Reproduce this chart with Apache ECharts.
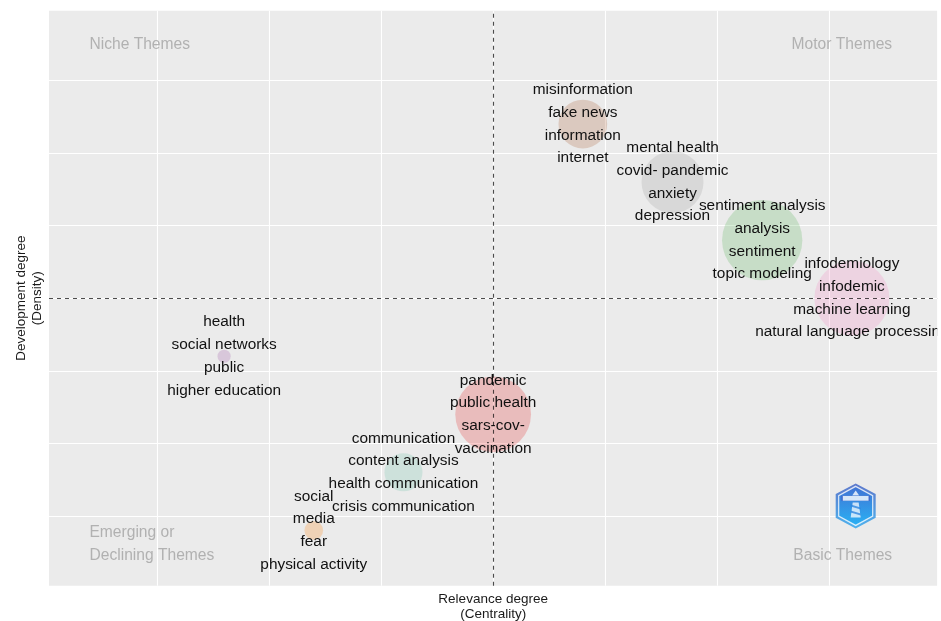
<!DOCTYPE html>
<html>
<head>
<meta charset="utf-8">
<title>Thematic map</title>
<script src="https://cdn.jsdelivr.net/npm/echarts@6/dist/echarts.min.js"></script>
<style>
  html, body { margin: 0; padding: 0; background: #ffffff; }
  #chart { width: 941px; height: 621px; }
</style>
</head>
<body>
<div id="chart"></div>
<script>
// Keyword clusters: each cluster shows its four leading keywords
const clusterLabels = [
  ['health', 'social networks', 'public', 'higher education'],
  ['social', 'media', 'fear', 'physical activity'],
  ['communication', 'content analysis', 'health communication', 'crisis communication'],
  ['pandemic', 'public health', 'sars-cov-', 'vaccination'],
  ['misinformation', 'fake news', 'information', 'internet'],
  ['mental health', 'covid- pandemic', 'anxiety', 'depression'],
  ['sentiment analysis', 'analysis', 'sentiment', 'topic modeling'],
  ['infodemiology', 'infodemic', 'machine learning', 'natural language processing']
];
// Relevance degree (centrality) and development degree (density)
const centrality = [0.6, 1.4, 2.2, 3.0, 3.8, 4.6, 5.4, 6.2];
const density = [2.2, -0.2, 0.6, 1.4, 5.4, 4.6, 3.8, 3.0];
// Cluster frequency (bubble area)
const clusterFreq = [27, 54, 224, 889, 368, 596, 1000, 872];
const clusterColors = ['#984EA3', '#FF7F00', '#66C2A5', '#E41A1C', '#A65628', '#999999', '#4DAF4A', '#F781BF'];

// Axis breaks and quadrant dividers
const gridBreaks = [0, 1, 2, 3, 4, 5, 6];
const meanCentrality = 3;
const meanDensity = 3;
const axisMin = -0.962;
const axisMax = 6.962;

const quadrantNames = ['Niche Themes', 'Motor Themes', 'Emerging or\nDeclining Themes', 'Basic Themes'];

const FONT = '"Liberation Sans", Arial, Helvetica, sans-serif';
const maxFreq = Math.max.apply(null, clusterFreq);

// translucent fill so the panel grid shows through the bubbles
function withAlpha(hex, a) {
  const n = parseInt(hex.slice(1), 16);
  return 'rgba(' + ((n >> 16) & 255) + ',' + ((n >> 8) & 255) + ',' + (n & 255) + ',' + a + ')';
}

const bubbleData = centrality.map((c, i) => ({
  value: [c, density[i], clusterFreq[i]],
  itemStyle: { color: withAlpha(clusterColors[i], 0.28) }
}));

const hexPath = 'path://M20,0 L38,10.5 L38,33.5 L20,44 L2,33.5 L2,10.5 Z';
const logoAt = [6.234, 0.138];

const chart = echarts.init(document.getElementById('chart'), null, { renderer: 'canvas' });

chart.setOption({
  animation: false,
  backgroundColor: '#ffffff',
  grid: {
    left: 49, right: 3.7, top: 10.7, bottom: 35.3,
    outerBoundsMode: 'none',
    show: true, backgroundColor: '#EBEBEB', borderWidth: 0
  },
  xAxis: {
    type: 'value', min: axisMin, max: axisMax,
    axisLine: { show: false }, axisTick: { show: false },
    axisLabel: { show: false }, splitLine: { show: false },
    name: 'Relevance degree\n(Centrality)',
    nameLocation: 'middle', nameGap: 5.5,
    nameTextStyle: { fontFamily: FONT, fontSize: 13.5, lineHeight: 15.6, color: '#1a1a1a' }
  },
  yAxis: {
    type: 'value', min: axisMin, max: axisMax,
    axisLine: { show: false }, axisTick: { show: false },
    axisLabel: { show: false }, splitLine: { show: false },
    name: 'Development degree\n(Density)',
    nameLocation: 'middle', nameGap: 4,
    nameTextStyle: { fontFamily: FONT, fontSize: 13.5, lineHeight: 15.6, color: '#1a1a1a' }
  },
  series: [
    {
      // white panel grid at the axis breaks, beneath everything else
      type: 'scatter', data: [], silent: true, z: 1,
      markLine: {
        z: 1,
        silent: true, symbol: ['none', 'none'], label: { show: false },
        lineStyle: { color: '#FFFFFF', width: 1.1, type: 'solid' },
        data: gridBreaks.map(v => ({ xAxis: v })).concat(gridBreaks.map(v => ({ yAxis: v })))
      }
    },
    {
      name: 'clusters', type: 'scatter', z: 2, silent: true,
      data: bubbleData,
      symbol: 'circle',
      symbolSize: v => 80.3 * Math.sqrt(v[2] / maxFreq),
      label: {
        show: true, position: 'inside', offset: [0, 2],
        formatter: p => clusterLabels[p.dataIndex].join('\n'),
        fontFamily: FONT, fontSize: 15.4, lineHeight: 22.67, color: '#111111',
        textBorderWidth: 0, textBorderColor: 'transparent', opacity: 1
      },
      labelLayout: { hideOverlap: false },
      emphasis: { disabled: true }
    },
    {
      // quadrant dividers at the mean centrality / density, drawn on top
      type: 'scatter', data: [], silent: true, z: 6,
      markLine: {
        z: 6,
        silent: true, symbol: ['none', 'none'], label: { show: false },
        lineStyle: { color: 'rgba(0,0,0,0.7)', width: 1.1, type: [4, 4] },
        data: [{ xAxis: meanCentrality }, { yAxis: meanDensity }]
      }
    },
    {
      // quadrant captions
      type: 'scatter', z: 4, silent: true, symbolSize: 0,
      label: {
        show: true, formatter: p => p.name, offset: [0, 1.3],
        fontFamily: FONT, fontSize: 15.6, lineHeight: 22.6, color: '#A2A2A2', distance: 0
      },
      data: [
        { name: quadrantNames[0], value: [-0.601, 6.514], label: { position: 'right', align: 'left' } },
        { name: quadrantNames[1], value: [6.559, 6.514], label: { position: 'left', align: 'right' } },
        { name: quadrantNames[2], value: [-0.601, -0.376], label: { position: 'right', align: 'left' } },
        { name: quadrantNames[3], value: [6.559, -0.532], label: { position: 'left', align: 'right' } }
      ]
    },
    {
      // package badge
      type: 'scatter', z: 7, silent: true,
      data: [
        {
          value: logoAt, symbol: hexPath, symbolSize: [40, 45],
          itemStyle: { color: { type: 'linear', x: 0, y: 0, x2: 0, y2: 1,
            colorStops: [{ offset: 0, color: '#3A5CC4' }, { offset: 1, color: '#27A4EE' }] } }
        },
        {
          value: logoAt, symbol: hexPath, symbolSize: [34, 39],
          itemStyle: { color: { type: 'linear', x: 0, y: 0, x2: 0, y2: 1,
            colorStops: [{ offset: 0, color: '#3B70D6' }, { offset: 1, color: '#1FB2F6' }] },
            borderColor: '#FFFFFF', borderWidth: 1.3 }
        },
        {
          value: logoAt, symbol: 'path://M4,0 L8,5 L0,5 Z', symbolSize: [7, 5], symbolOffset: [0, -13],
          itemStyle: { color: '#FFFFFF' }
        },
        {
          value: logoAt, symbol: 'rect', symbolSize: [27, 5], symbolOffset: [0, -7.5],
          itemStyle: { color: '#FFFFFF', borderColor: '#3A5CC4', borderWidth: 0.6 }
        },
        {
          value: logoAt, symbol: 'path://M2,0 L8,0 L10,16 L0,16 Z', symbolSize: [10, 15], symbolOffset: [0, 4],
          itemStyle: { color: 'rgba(255,255,255,0.92)' }
        },
        {
          value: logoAt, symbol: 'path://M0,0 L10,3 L10,5 L0,2 Z M0,6 L10,9 L10,11 L0,8 Z', symbolSize: [10, 11], symbolOffset: [0, 4],
          itemStyle: { color: '#2E86E0' }
        }
      ]
    }
  ],
  graphic: [
    {
      // text beyond the panel edge is clipped, as in the panel itself
      type: 'rect', right: 0, top: 0, z: 100, silent: true,
      shape: { width: 3.7, height: 621 },
      style: { fill: '#FFFFFF' }
    }
  ]
});
</script>
</body>
</html>
